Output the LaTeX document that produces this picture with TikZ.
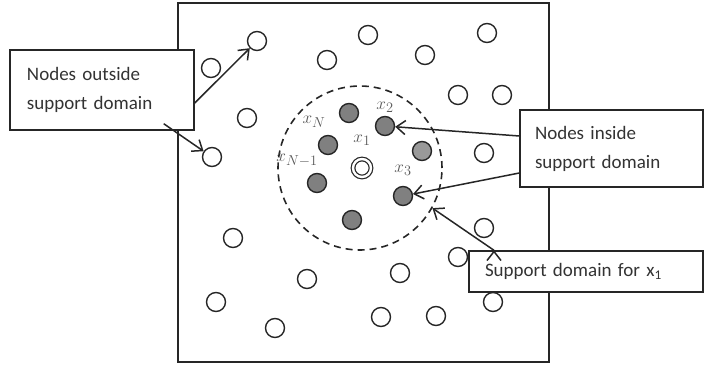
\documentclass[tikz,border=0pt]{standalone}
\usepackage[no-math]{fontspec}
\setmainfont{Carlito}
\usepackage{tikz}
\usetikzlibrary{arrows.meta}

\begin{document}
\begin{tikzpicture}[x=1pt,y=-1pt,
	open/.style={circle,draw=black!85,line width=1.4pt,minimum size=19pt,inner sep=0pt},
	inside/.style={circle,draw=black!85,fill=black!50,line width=1.4pt,minimum size=19pt,inner sep=0pt},
	lbl/.style={text=black!65,font=\fontsize{19}{22}\selectfont},
	box/.style={draw=black!85,fill=white,line width=1.4pt,align=left,inner ysep=0pt,text=black!80,font=\fontsize{19}{29}\selectfont},
	>={Straight Barb[length=9pt,width=14pt]}]
	\useasboundingbox (0,0) rectangle (705,365);
	\draw[line width=1.8pt,black!85] (178,3) rectangle (549,362);
	%
	\foreach \x/\y [count=\i] in {257/41,211/68,327/60,247/118,212/157,368/35,487/33,
		425/55,458/95,502/95,484/153,233/238,484/228,458/257,307/279,400/273,
		216/302,275/328,381/317,436/316,493/302}
		\node[open] (o\i) at (\x,\y) {};
	%
	\node[inside] (n1) at (349,113) {};
	\node[inside] (n2) at (385,126) {};
	\node[inside] (n3) at (328,145) {};
	\node[inside,fill=black!40] (n4) at (422,151) {};
	\node[inside] (n5) at (317,183) {};
	\node[inside] (n6) at (403,196) {};
	\node[inside] (n7) at (352,220) {};
	\node[circle,draw=black!85,double,double distance=2.4pt,line width=1.2pt,minimum size=18pt,inner sep=0pt] (x1) at (362,168) {};
	\node[circle,draw=black!85,dashed,dash pattern=on 7pt off 5pt,line width=1.6pt,minimum size=164pt] (domain) at (360,168) {};
	%
	\node[lbl] (l2) at (385,107) {$x_2$};
	\node[lbl] (lN) at (314,122) {$x_N$};
	\node[lbl] (l1) at (362,140) {$x_1$};
	\node[lbl] (lN1) at (297,160) {$x_{N-1}$};
	\node[lbl] (l3) at (403,170) {$x_3$};
	%
	\node[box,inner xsep=17pt,text width=150pt,minimum height=80pt] (outside) at (102,90)
		{Nodes outside\\support domain};
	\node[box,inner xsep=15pt,text width=153pt,minimum height=77pt] (insidebox) at (611.5,148.5)
		{Nodes inside\\support domain};
	\node[box,inner xsep=16pt,text width=202pt,minimum height=41pt] (support) at (586,271.5)
		{Support domain for x\textsubscript{1}};
	%
	\path[->,line width=1.5pt,draw=black!85]
	([yshift=-13pt]outside.east) edge (o1)
	([xshift=-31pt,yshift=7pt]outside.south east) edge (o5)
	([yshift=12.5pt]insidebox.west) edge (n2)
	([yshift=-24.5pt]insidebox.west) edge (n6)
	([xshift=-92pt]support.north) edge (domain.-29);
\end{tikzpicture}
\end{document}
